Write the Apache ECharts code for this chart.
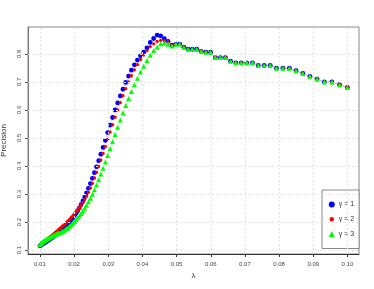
<!DOCTYPE html>
<html>
<head>
<meta charset="utf-8">
<script src="https://cdn.jsdelivr.net/npm/echarts@6/dist/echarts.min.js"></script>
<style>html,body{margin:0;padding:0;background:#fff;}#c{width:374px;height:289px;}</style>
</head>
<body>
<div id="c"></div>
<script>
const lambda = [
0.010000,0.010235,0.010476,0.010723,0.010975,0.011233,0.011498,0.011768,0.012045,0.012328,
0.012619,0.012915,0.013219,0.013530,0.013849,0.014175,0.014508,0.014850,0.015199,0.015557,
0.015923,0.016298,0.016681,0.017074,0.017475,0.017886,0.018307,0.018738,0.019179,0.019630,
0.020092,0.020565,0.021049,0.021544,0.022051,0.022570,0.023101,0.023645,0.024201,0.024771,
0.025354,0.025950,0.026561,0.027186,0.027826,0.028480,0.029151,0.029837,0.030539,0.031257,
0.031993,0.032745,0.033516,0.034305,0.035112,0.035938,0.036784,0.037649,0.038535,0.039442,
0.040370,0.041320,0.042292,0.043288,0.044306,0.045349,0.046416,0.047508,0.048626,0.049770,
0.050941,0.052140,0.053367,0.054623,0.055908,0.057224,0.058570,0.059948,0.061359,0.062803,
0.064281,0.065793,0.067342,0.068926,0.070548,0.072208,0.073907,0.075646,0.077426,0.079248,
0.081113,0.083022,0.084975,0.086975,0.089022,0.091116,0.093260,0.095455,0.097701,0.100000];

const gamma1 = [
0.115,0.117,0.119,0.121,0.123,0.125,0.127,0.129,0.131,0.134,
0.136,0.139,0.141,0.144,0.147,0.150,0.153,0.156,0.159,0.162,
0.166,0.170,0.174,0.178,0.183,0.188,0.195,0.201,0.208,0.215,
0.223,0.231,0.240,0.250,0.262,0.275,0.289,0.304,0.320,0.337,
0.356,0.376,0.397,0.419,0.442,0.466,0.491,0.519,0.546,0.573,
0.600,0.625,0.650,0.674,0.698,0.721,0.742,0.761,0.778,0.793,
0.806,0.821,0.841,0.855,0.867,0.864,0.854,0.845,0.831,0.834,
0.835,0.824,0.817,0.817,0.817,0.809,0.806,0.806,0.787,0.787,
0.787,0.774,0.768,0.768,0.768,0.768,0.759,0.759,0.759,0.749,
0.749,0.749,0.740,0.730,0.720,0.710,0.700,0.700,0.690,0.680];

const gamma2 = [
0.116,0.118,0.121,0.123,0.126,0.129,0.131,0.134,0.137,0.140,
0.143,0.146,0.149,0.152,0.156,0.159,0.163,0.166,0.170,0.174,
0.178,0.182,0.186,0.190,0.195,0.200,0.205,0.210,0.216,0.222,
0.229,0.236,0.243,0.251,0.259,0.269,0.280,0.292,0.306,0.321,
0.338,0.357,0.377,0.398,0.421,0.445,0.469,0.495,0.521,0.547,
0.574,0.600,0.626,0.651,0.676,0.700,0.722,0.743,0.762,0.780,
0.796,0.812,0.826,0.836,0.845,0.848,0.846,0.843,0.830,0.834,
0.835,0.824,0.817,0.817,0.817,0.809,0.806,0.806,0.787,0.787,
0.787,0.774,0.768,0.768,0.768,0.768,0.759,0.759,0.759,0.749,
0.749,0.749,0.740,0.730,0.720,0.710,0.700,0.700,0.690,0.680];

const gamma3 = [
0.120,0.123,0.126,0.128,0.131,0.133,0.135,0.137,0.139,0.141,
0.143,0.145,0.147,0.149,0.151,0.153,0.155,0.157,0.159,0.161,
0.162,0.164,0.167,0.170,0.174,0.177,0.181,0.186,0.191,0.196,
0.202,0.208,0.215,0.222,0.230,0.239,0.249,0.260,0.272,0.285,
0.299,0.315,0.332,0.351,0.371,0.392,0.414,0.437,0.461,0.486,
0.512,0.538,0.564,0.590,0.616,0.641,0.666,0.690,0.713,0.735,
0.756,0.776,0.795,0.812,0.825,0.836,0.839,0.834,0.828,0.834,
0.835,0.824,0.817,0.817,0.817,0.809,0.806,0.806,0.787,0.787,
0.787,0.774,0.768,0.768,0.768,0.768,0.759,0.759,0.759,0.749,
0.749,0.749,0.740,0.730,0.720,0.710,0.700,0.700,0.690,0.680];

const xTicks = [0.01,0.02,0.03,0.04,0.05,0.06,0.07,0.08,0.09,0.10];
const yTicks = [0.1,0.2,0.3,0.4,0.5,0.6,0.7,0.8];
const seriesNames = ['γ = 1','γ = 2','γ = 3'];

const FONT = '"Liberation Sans", Arial, sans-serif';
const pairs = ys => lambda.map((x, i) => [x, ys[i]]);

const chart = echarts.init(document.getElementById('c'), null, {renderer: 'canvas'});
const gridLines = xTicks.map(v => ({xAxis: v})).concat(yTicks.map(v => ({yAxis: v})));

chart.setOption({
  animation: false,
  backgroundColor: '#ffffff',
  textStyle: {fontFamily: FONT},
  grid: {left: 28, top: 27, width: 331, height: 227, show: true, borderColor: '#888', borderWidth: 1,
    backgroundColor: 'transparent', containLabel: false, outerBoundsMode: 'none'},
  xAxis: {
    type: 'value', min: 0.0065, max: 0.1034,
    name: 'λ', nameLocation: 'middle', nameGap: 17,
    nameTextStyle: {fontSize: 8, color: '#333', fontFamily: FONT},
    axisLine: {show: true, onZero: false, lineStyle: {color: '#333', width: 1}},
    axisTick: {show: true, length: 3, customValues: xTicks, lineStyle: {color: '#333'}},
    axisLabel: {show: true, customValues: xTicks, fontSize: 6, margin: 7, color: '#444', fontFamily: FONT,
      formatter: v => v.toFixed(2)},
    splitLine: {show: false}
  },
  yAxis: {
    type: 'value', min: 0.0857, max: 0.896,
    name: 'Precision', nameLocation: 'middle', nameGap: 19, nameRotate: 90,
    nameTextStyle: {fontSize: 8, color: '#333', fontFamily: FONT},
    axisLine: {show: true, onZero: false, lineStyle: {color: '#777', width: 1}},
    axisTick: {show: true, length: 3, customValues: yTicks, lineStyle: {color: '#555'}},
    axisLabel: {show: true, customValues: yTicks, rotate: 90, fontSize: 6, margin: 6, color: '#444', fontFamily: FONT,
      formatter: v => v.toFixed(1)},
    splitLine: {show: false}
  },
  legend: {
    orient: 'vertical', left: 322, top: 190,
    padding: [11, 5, 11, 6], itemGap: 7.5, itemWidth: 6, itemHeight: 6,
    backgroundColor: '#fff', borderColor: '#888', borderWidth: 1,
    textStyle: {fontSize: 7, color: '#333', fontFamily: FONT, padding: [0, 0, 0, -1]},
    data: [
      {name: seriesNames[0], icon: 'circle', itemStyle: {color: '#0000ff'}},
      {name: seriesNames[1], icon: 'circle', itemStyle: {color: '#ff0000', borderColor: '#fff', borderWidth: 1.5}},
      {name: seriesNames[2], icon: 'triangle', itemStyle: {color: '#00ff00'}}
    ]
  },
  series: [
    {
      type: 'line', data: [], z: 0, silent: true, symbol: 'none',
      markLine: {silent: true, symbol: 'none', animation: false, label: {show: false},
        lineStyle: {type: [2, 2], color: '#e4e4e4', width: 1}, data: gridLines}
    },
    {
      name: seriesNames[0], type: 'line', data: pairs(gamma1), symbol: 'circle', symbolSize: 4.8,
      showSymbol: true, itemStyle: {color: '#0000ff'},
      lineStyle: {color: '#0000ff', width: 0.8, type: 'dotted', opacity: 0.4}, z: 3
    },
    {
      name: seriesNames[1], type: 'line', data: pairs(gamma2), symbol: 'circle', symbolSize: 3.3,
      showSymbol: true, itemStyle: {color: '#ff0000'},
      lineStyle: {color: '#ff0000', width: 0.8, type: 'dotted', opacity: 0.4}, z: 4
    },
    {
      name: seriesNames[2], type: 'line', data: pairs(gamma3), symbol: 'triangle', symbolSize: 5,
      showSymbol: true, itemStyle: {color: '#00ff00'},
      lineStyle: {color: '#00ff00', width: 0.8, type: 'dotted', opacity: 0.4}, z: 5
    }
  ]
});
</script>
</body>
</html>
